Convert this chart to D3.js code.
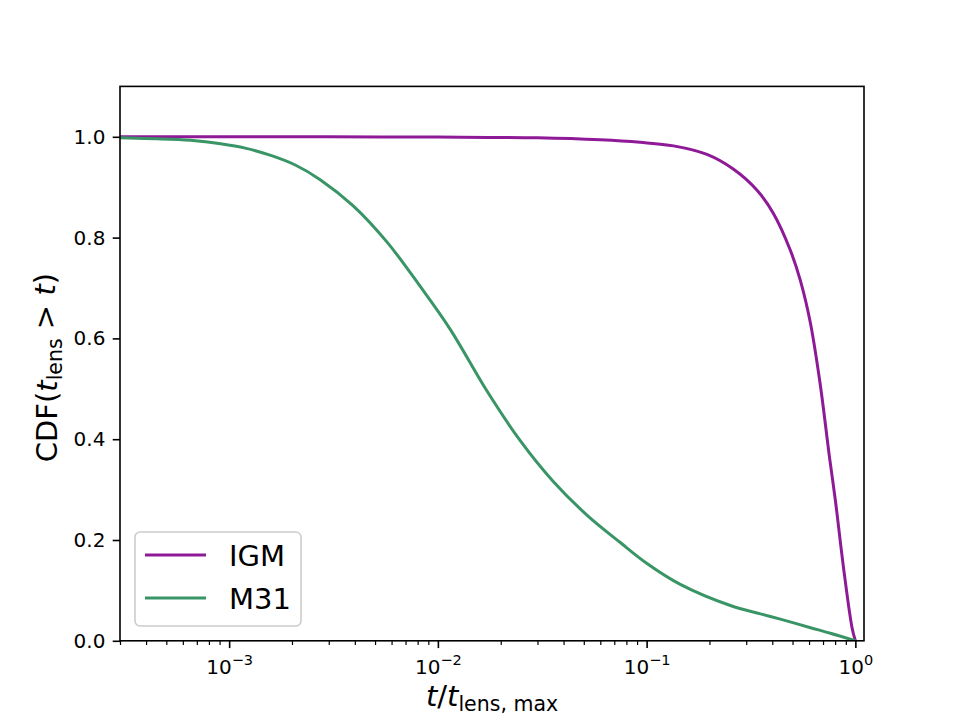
<!DOCTYPE html>
<html>
<head>
<meta charset="utf-8">
<script src="https://cdn.jsdelivr.net/npm/d3@7/dist/d3.min.js"></script>
<style>
  body { margin: 0; background: #fff; }
  #chart-area { width: 960px; height: 720px; }
  text { font-family: "DejaVu Sans", sans-serif; fill: #000; }
  .axis path, .axis line { stroke: #000; }
</style>
</head>
<body>
<div id="chart-area"></div>
<script>
// values
const seriesNames = ["IGM", "M31"];
const seriesColors = ["#8e1a97", "#3a9566"];

const igmT = [3e-4, 1e-3, 3e-3, 1e-2, 0.03, 0.06, 0.0931, 0.1346, 0.1945, 0.26, 0.338, 0.405, 0.488,
  0.545, 0.608, 0.677, 0.753, 0.802, 0.877, 0.964, 1.0];
const igmCdf = [1.0, 1.0, 1.0, 0.9995, 0.998, 0.994, 0.989, 0.982, 0.965, 0.936, 0.894, 0.848, 0.775,
  0.715, 0.632, 0.512, 0.362, 0.279, 0.146, 0.026, 0.0];

const m31T = [3e-4, 5.2e-4, 6.89e-4, 9.1e-4, 1.193e-3, 1.57e-3, 2.074e-3, 2.73e-3, 3.93e-3, 5.71e-3,
  8.2e-3, 1.15e-2, 1.71e-2, 2.48e-2, 3.57e-2, 5.19e-2, 7.48e-2, 0.1, 0.145, 0.252, 0.351, 0.437,
  0.61, 0.759, 1.0];
const m31Cdf = [0.998, 0.995, 0.992, 0.986, 0.9775, 0.9635, 0.944, 0.915, 0.863, 0.791,
  0.704, 0.617, 0.497, 0.397, 0.316, 0.249, 0.195, 0.154, 0.112, 0.070, 0.0535, 0.043,
  0.026, 0.015, 0.0];

const xMajorTicks = [1e-3, 1e-2, 1e-1, 1e0];
const xMajorExp = ["\u22123", "\u22122", "\u22121", "0"];
const yTicks = [0.0, 0.2, 0.4, 0.6, 0.8, 1.0];
const xDomain = [3e-4, 1.1];
const yDomain = [0, 1.1];

class CdfVis {
  constructor(_parentElement) {
    this.parentElement = _parentElement;
    this.series = [
      { name: seriesNames[0], color: seriesColors[0], values: igmT.map((t, i) => ({ t: t, p: igmCdf[i] })) },
      { name: seriesNames[1], color: seriesColors[1], values: m31T.map((t, i) => ({ t: t, p: m31Cdf[i] })) }
    ];
    this.initVis();
  }

  initVis() {
    let vis = this;

    // matplotlib default subplot box on a 960x720 figure
    vis.margin = { top: 86.4, right: 96, bottom: 79.2, left: 120 };
    vis.width = 960 - vis.margin.left - vis.margin.right;
    vis.height = 720 - vis.margin.top - vis.margin.bottom;

    vis.root = d3.select("#" + vis.parentElement).append("svg")
      .attr("width", 960)
      .attr("height", 720);
    vis.svg = vis.root.append("g")
      .attr("transform", "translate(" + vis.margin.left + "," + vis.margin.top + ")");

    vis.x = d3.scaleLog().domain(xDomain).range([0, vis.width]);
    vis.y = d3.scaleLinear().domain(yDomain).range([vis.height, 0]);

    // minor ticks on the log axis
    let minor = [];
    for (let e = -4; e <= 0; e++) {
      for (let k = 2; k <= 9; k++) {
        let v = k * Math.pow(10, e);
        if (v >= xDomain[0] - 1e-12 && v <= xDomain[1]) minor.push(v);
      }
    }

    vis.svg.append("g")
      .attr("class", "axis x-minor")
      .attr("transform", `translate(0, ${vis.height})`)
      .call(d3.axisBottom(vis.x).tickValues(minor).tickSize(4.2).tickFormat(""))
      .call(g => g.select(".domain").remove())
      .selectAll("line").attr("stroke-width", 1.2);

    let xAxisG = vis.svg.append("g")
      .attr("class", "axis x-axis")
      .attr("transform", `translate(0, ${vis.height})`)
      .call(d3.axisBottom(vis.x).tickValues(xMajorTicks).tickSize(7.3).tickPadding(7.3).tickFormat(""));
    xAxisG.select(".domain").remove();
    xAxisG.selectAll("line").attr("stroke-width", 1.6);
    xAxisG.selectAll(".tick text")
      .attr("font-size", 20)
      .attr("dy", "0.95em")
      .each(function(d, i) {
        let t = d3.select(this);
        t.append("tspan").text("10");
        t.append("tspan").attr("font-size", 14.5).attr("dy", "-0.65em").text(xMajorExp[i]);
      });

    let yAxisG = vis.svg.append("g")
      .attr("class", "axis y-axis")
      .call(d3.axisLeft(vis.y).tickValues(yTicks).tickSize(7.3).tickPadding(7.3).tickFormat(d3.format(".1f")));
    yAxisG.select(".domain").remove();
    yAxisG.selectAll("line").attr("stroke-width", 1.6);
    yAxisG.selectAll("text").attr("font-size", 20);

    // axis titles
    let yl = vis.root.append("text")
      .attr("transform", "translate(57," + (vis.margin.top + vis.height / 2 + 4) + ") rotate(-90)")
      .attr("text-anchor", "middle")
      .attr("font-size", 29);
    yl.append("tspan").text("CDF(");
    yl.append("tspan").attr("font-style", "italic").text("t");
    yl.append("tspan").attr("font-size", 20.5).attr("dy", "0.22em").text("lens");
    yl.append("tspan").attr("dy", "-0.22em").text(" > ");
    yl.append("tspan").attr("font-style", "italic").text("t");
    yl.append("tspan").text(")");

    let xl = vis.root.append("text")
      .attr("x", vis.margin.left + vis.width / 2)
      .attr("y", 706)
      .attr("text-anchor", "middle")
      .attr("font-size", 29);
    xl.append("tspan").attr("font-style", "italic").text("t");
    xl.append("tspan").text("/");
    xl.append("tspan").attr("font-style", "italic").text("t");
    xl.append("tspan").attr("font-size", 20.5).attr("dy", "0.22em").text("lens, max");

    vis.clip = vis.svg.append("clipPath").attr("id", "plot-clip")
      .append("rect").attr("width", vis.width).attr("height", vis.height);

    vis.line = d3.line()
      .x(d => vis.x(d.t))
      .y(d => vis.y(d.p))
      .curve(d3.curveCatmullRom.alpha(0.5));

    vis.updateVis();
  }

  updateVis() {
    let vis = this;

    vis.svg.selectAll(".cdf-line")
      .data(vis.series)
      .enter().append("path")
      .attr("class", "cdf-line")
      .attr("clip-path", "url(#plot-clip)")
      .attr("fill", "none")
      .attr("stroke", d => d.color)
      .attr("stroke-width", 3)
      .attr("d", d => vis.line(d.values));

    // frame on top
    vis.svg.append("rect")
      .attr("width", vis.width)
      .attr("height", vis.height)
      .attr("fill", "none")
      .attr("stroke", "#000")
      .attr("stroke-width", 1.6);

    // legend
    let lg = vis.svg.append("g")
      .attr("transform", "translate(" + (135 - vis.margin.left) + "," + (532 - vis.margin.top) + ")");
    lg.append("rect")
      .attr("width", 166)
      .attr("height", 94)
      .attr("rx", 5)
      .attr("fill", "#fff")
      .attr("fill-opacity", 0.8)
      .attr("stroke", "#cccccc")
      .attr("stroke-width", 1.6);
    let items = lg.selectAll(".legend-item")
      .data(vis.series)
      .enter().append("g")
      .attr("class", "legend-item")
      .attr("transform", (d, i) => "translate(0," + (23 + i * 43) + ")");
    items.append("line")
      .attr("x1", 10).attr("x2", 71)
      .attr("stroke", d => d.color)
      .attr("stroke-width", 3);
    items.append("text")
      .attr("x", 94)
      .attr("y", 10.5)
      .attr("font-size", 29)
      .text(d => d.name);
  }
}

new CdfVis("chart-area");
</script>
</body>
</html>
